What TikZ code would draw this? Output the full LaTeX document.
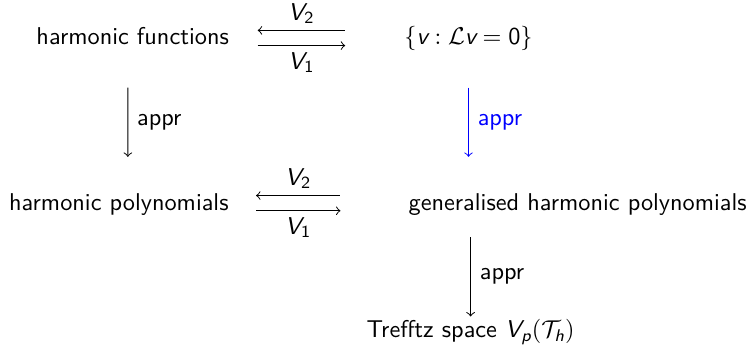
\documentclass[tikz,border=0pt]{standalone}
\usepackage{amsmath}
\usetikzlibrary{calc}
\newcommand{\sv}[1]{\textit{#1}}
\begin{document}
\begin{tikzpicture}[font=\sffamily,
  every node/.style={inner sep=0pt},
  lbl/.style={inner sep=2.5pt},
  side/.style={right,inner sep=3.6pt}]
  \useasboundingbox (0,0) rectangle (10.81,5.18);
  % Spaces
  \node[anchor=base] (hf) at (1.92,4.53) {harmonic functions};
  \node[anchor=base] (vset) at (6.78,4.53) {$\{\sv{v} : \mathcal{L}\sv{v} = \text{0}\}$};
  \node[anchor=base] (hp) at (1.72,2.14) {harmonic polynomials};
  \node[anchor=base] (ghp) at (8.36,2.14) {generalised harmonic polynomials};
  \node[anchor=base] (tz) at (6.81,0.29) {Trefftz space $\sv{V}_{\sv{p}}(\mathcal{T}_{\sv{h}})$};
  % Maps between the rows
  \draw[<-] ($(hf.base east)+(0.41,0.21)$) -- ($(vset.base west)+(-0.85,0.21)$)
    node[midway,above,lbl] {$\sv{V}_{\text{2}}$};
  \draw[->] ($(hf.base east)+(0.41,-0.01)$) -- ($(vset.base west)+(-0.85,-0.01)$)
    node[midway,below,lbl] {$\sv{V}_{\text{1}}$};
  \draw[<-] ($(hp.base east)+(0.39,0.21)$) -- ($(ghp.base west)+(-0.98,0.21)$)
    node[midway,above,lbl] {$\sv{V}_{\text{2}}$};
  \draw[->] ($(hp.base east)+(0.39,-0.01)$) -- ($(ghp.base west)+(-0.98,-0.01)$)
    node[midway,below,lbl] {$\sv{V}_{\text{1}}$};
  % Approximation arrows
  \draw[->] ($(hf.base)+(-0.07,-0.62)$) -- ($(hp.base)+(0.13,0.77)$)
    node[midway,side] {appr};
  \draw[->,blue] ($(vset.base)+(0,-0.62)$) -- ($(vset.base |- ghp.base)+(0,0.77)$)
    node[midway,side] {appr};
  \draw[->] ($(tz.base |- ghp.base)+(0,-0.39)$) -- ($(tz.base)+(0,0.31)$)
    node[midway,side] {appr};
\end{tikzpicture}
\end{document}
